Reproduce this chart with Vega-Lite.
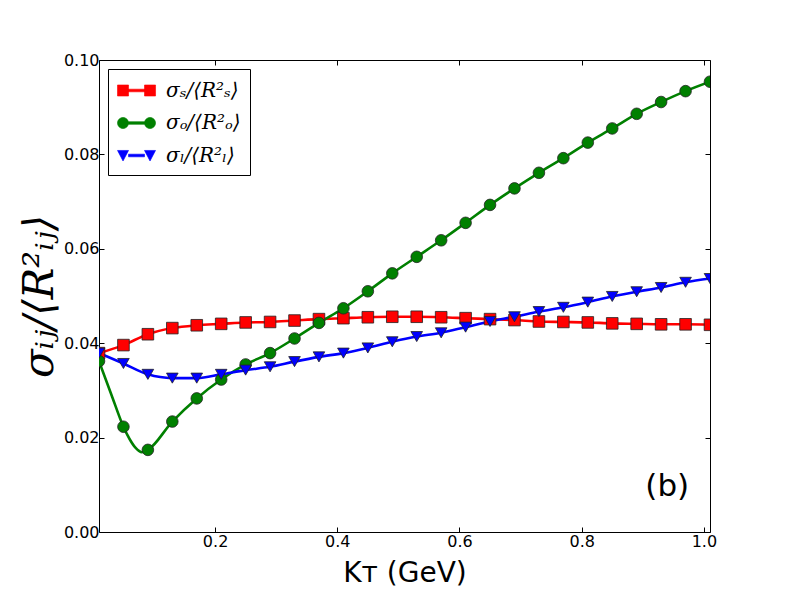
{
  "$schema": "https://vega.github.io/schema/vega-lite/v6.json",
  "autosize": "none",
  "width": 611,
  "height": 472,
  "padding": {"left": 99, "top": 60, "right": 79, "bottom": 60},
  "background": "white",
  "config": {
    "view": {"stroke": "black", "strokeWidth": 1},
    "axis": {
      "domain": false,
      "grid": false,
      "tickColor": "black",
      "tickSize": -5,
      "tickWidth": 1,
      "labelFont": "DejaVu Sans",
      "labelFontSize": 16,
      "labelColor": "black",
      "titleColor": "black",
      "titleFontWeight": "normal"
    },
    "legend": {
      "orient": "top-left",
      "offset": 9,
      "padding": 9,
      "strokeColor": "black",
      "fillColor": "white",
      "cornerRadius": 0,
      "symbolSize": 576,
      "symbolStrokeColor": "#222222",
      "symbolStrokeWidth": 0.6,
      "labelFont": "DejaVu Serif",
      "labelFontStyle": "italic",
      "labelFontSize": 20,
      "labelColor": "black",
      "labelOffset": 24,
      "rowPadding": 9.5
    }
  },
  "datasets": {
    "curves": [
      {"k": 0.01, "sigma": 0.0379, "series": "σₛ/⟨R²ₛ⟩", "sampled": true},
      {"k": 0.05, "sigma": 0.0396, "series": "σₛ/⟨R²ₛ⟩", "sampled": true},
      {"k": 0.09, "sigma": 0.0419, "series": "σₛ/⟨R²ₛ⟩", "sampled": true},
      {"k": 0.13, "sigma": 0.0432, "series": "σₛ/⟨R²ₛ⟩", "sampled": true},
      {"k": 0.17, "sigma": 0.0438, "series": "σₛ/⟨R²ₛ⟩", "sampled": true},
      {"k": 0.21, "sigma": 0.0441, "series": "σₛ/⟨R²ₛ⟩", "sampled": true},
      {"k": 0.25, "sigma": 0.0444, "series": "σₛ/⟨R²ₛ⟩", "sampled": true},
      {"k": 0.29, "sigma": 0.0445, "series": "σₛ/⟨R²ₛ⟩", "sampled": true},
      {"k": 0.33, "sigma": 0.0448, "series": "σₛ/⟨R²ₛ⟩", "sampled": true},
      {"k": 0.37, "sigma": 0.0451, "series": "σₛ/⟨R²ₛ⟩", "sampled": true},
      {"k": 0.41, "sigma": 0.0453, "series": "σₛ/⟨R²ₛ⟩", "sampled": true},
      {"k": 0.45, "sigma": 0.0455, "series": "σₛ/⟨R²ₛ⟩", "sampled": true},
      {"k": 0.49, "sigma": 0.0456, "series": "σₛ/⟨R²ₛ⟩", "sampled": true},
      {"k": 0.53, "sigma": 0.0456, "series": "σₛ/⟨R²ₛ⟩", "sampled": true},
      {"k": 0.57, "sigma": 0.0455, "series": "σₛ/⟨R²ₛ⟩", "sampled": true},
      {"k": 0.61, "sigma": 0.0453, "series": "σₛ/⟨R²ₛ⟩", "sampled": true},
      {"k": 0.65, "sigma": 0.0451, "series": "σₛ/⟨R²ₛ⟩", "sampled": true},
      {"k": 0.69, "sigma": 0.0449, "series": "σₛ/⟨R²ₛ⟩", "sampled": true},
      {"k": 0.73, "sigma": 0.0446, "series": "σₛ/⟨R²ₛ⟩", "sampled": true},
      {"k": 0.77, "sigma": 0.0445, "series": "σₛ/⟨R²ₛ⟩", "sampled": true},
      {"k": 0.81, "sigma": 0.0444, "series": "σₛ/⟨R²ₛ⟩", "sampled": true},
      {"k": 0.85, "sigma": 0.0442, "series": "σₛ/⟨R²ₛ⟩", "sampled": true},
      {"k": 0.89, "sigma": 0.0441, "series": "σₛ/⟨R²ₛ⟩", "sampled": true},
      {"k": 0.93, "sigma": 0.0440, "series": "σₛ/⟨R²ₛ⟩", "sampled": true},
      {"k": 0.97, "sigma": 0.0440, "series": "σₛ/⟨R²ₛ⟩", "sampled": true},
      {"k": 1.01, "sigma": 0.0439, "series": "σₛ/⟨R²ₛ⟩", "sampled": true},
      {"k": 0.01, "sigma": 0.0362, "series": "σₒ/⟨R²ₒ⟩", "sampled": true},
      {"k": 0.03, "sigma": 0.0292, "series": "σₒ/⟨R²ₒ⟩", "sampled": false},
      {"k": 0.05, "sigma": 0.0223, "series": "σₒ/⟨R²ₒ⟩", "sampled": true},
      {"k": 0.06, "sigma": 0.0197, "series": "σₒ/⟨R²ₒ⟩", "sampled": false},
      {"k": 0.07, "sigma": 0.0178, "series": "σₒ/⟨R²ₒ⟩", "sampled": false},
      {"k": 0.08, "sigma": 0.0169, "series": "σₒ/⟨R²ₒ⟩", "sampled": false},
      {"k": 0.09, "sigma": 0.0174, "series": "σₒ/⟨R²ₒ⟩", "sampled": true},
      {"k": 0.13, "sigma": 0.0234, "series": "σₒ/⟨R²ₒ⟩", "sampled": true},
      {"k": 0.17, "sigma": 0.0283, "series": "σₒ/⟨R²ₒ⟩", "sampled": true},
      {"k": 0.21, "sigma": 0.0323, "series": "σₒ/⟨R²ₒ⟩", "sampled": true},
      {"k": 0.25, "sigma": 0.0355, "series": "σₒ/⟨R²ₒ⟩", "sampled": true},
      {"k": 0.29, "sigma": 0.0379, "series": "σₒ/⟨R²ₒ⟩", "sampled": true},
      {"k": 0.33, "sigma": 0.0410, "series": "σₒ/⟨R²ₒ⟩", "sampled": true},
      {"k": 0.37, "sigma": 0.0443, "series": "σₒ/⟨R²ₒ⟩", "sampled": true},
      {"k": 0.41, "sigma": 0.0474, "series": "σₒ/⟨R²ₒ⟩", "sampled": true},
      {"k": 0.45, "sigma": 0.0510, "series": "σₒ/⟨R²ₒ⟩", "sampled": true},
      {"k": 0.49, "sigma": 0.0548, "series": "σₒ/⟨R²ₒ⟩", "sampled": true},
      {"k": 0.53, "sigma": 0.0583, "series": "σₒ/⟨R²ₒ⟩", "sampled": true},
      {"k": 0.57, "sigma": 0.0618, "series": "σₒ/⟨R²ₒ⟩", "sampled": true},
      {"k": 0.61, "sigma": 0.0655, "series": "σₒ/⟨R²ₒ⟩", "sampled": true},
      {"k": 0.65, "sigma": 0.0693, "series": "σₒ/⟨R²ₒ⟩", "sampled": true},
      {"k": 0.69, "sigma": 0.0728, "series": "σₒ/⟨R²ₒ⟩", "sampled": true},
      {"k": 0.73, "sigma": 0.0761, "series": "σₒ/⟨R²ₒ⟩", "sampled": true},
      {"k": 0.77, "sigma": 0.0792, "series": "σₒ/⟨R²ₒ⟩", "sampled": true},
      {"k": 0.81, "sigma": 0.0825, "series": "σₒ/⟨R²ₒ⟩", "sampled": true},
      {"k": 0.85, "sigma": 0.0855, "series": "σₒ/⟨R²ₒ⟩", "sampled": true},
      {"k": 0.89, "sigma": 0.0886, "series": "σₒ/⟨R²ₒ⟩", "sampled": true},
      {"k": 0.93, "sigma": 0.0911, "series": "σₒ/⟨R²ₒ⟩", "sampled": true},
      {"k": 0.97, "sigma": 0.0934, "series": "σₒ/⟨R²ₒ⟩", "sampled": true},
      {"k": 1.01, "sigma": 0.0954, "series": "σₒ/⟨R²ₒ⟩", "sampled": true},
      {"k": 0.01, "sigma": 0.0379, "series": "σₗ/⟨R²ₗ⟩", "sampled": true},
      {"k": 0.05, "sigma": 0.0357, "series": "σₗ/⟨R²ₗ⟩", "sampled": true},
      {"k": 0.09, "sigma": 0.0334, "series": "σₗ/⟨R²ₗ⟩", "sampled": true},
      {"k": 0.13, "sigma": 0.0326, "series": "σₗ/⟨R²ₗ⟩", "sampled": true},
      {"k": 0.17, "sigma": 0.0326, "series": "σₗ/⟨R²ₗ⟩", "sampled": true},
      {"k": 0.21, "sigma": 0.0334, "series": "σₗ/⟨R²ₗ⟩", "sampled": true},
      {"k": 0.25, "sigma": 0.0343, "series": "σₗ/⟨R²ₗ⟩", "sampled": true},
      {"k": 0.29, "sigma": 0.0350, "series": "σₗ/⟨R²ₗ⟩", "sampled": true},
      {"k": 0.33, "sigma": 0.0361, "series": "σₗ/⟨R²ₗ⟩", "sampled": true},
      {"k": 0.37, "sigma": 0.0371, "series": "σₗ/⟨R²ₗ⟩", "sampled": true},
      {"k": 0.41, "sigma": 0.0379, "series": "σₗ/⟨R²ₗ⟩", "sampled": true},
      {"k": 0.45, "sigma": 0.0390, "series": "σₗ/⟨R²ₗ⟩", "sampled": true},
      {"k": 0.49, "sigma": 0.0403, "series": "σₗ/⟨R²ₗ⟩", "sampled": true},
      {"k": 0.53, "sigma": 0.0414, "series": "σₗ/⟨R²ₗ⟩", "sampled": true},
      {"k": 0.57, "sigma": 0.0422, "series": "σₗ/⟨R²ₗ⟩", "sampled": true},
      {"k": 0.61, "sigma": 0.0434, "series": "σₗ/⟨R²ₗ⟩", "sampled": true},
      {"k": 0.65, "sigma": 0.0446, "series": "σₗ/⟨R²ₗ⟩", "sampled": true},
      {"k": 0.69, "sigma": 0.0456, "series": "σₗ/⟨R²ₗ⟩", "sampled": true},
      {"k": 0.73, "sigma": 0.0467, "series": "σₗ/⟨R²ₗ⟩", "sampled": true},
      {"k": 0.77, "sigma": 0.0476, "series": "σₗ/⟨R²ₗ⟩", "sampled": true},
      {"k": 0.81, "sigma": 0.0487, "series": "σₗ/⟨R²ₗ⟩", "sampled": true},
      {"k": 0.85, "sigma": 0.0499, "series": "σₗ/⟨R²ₗ⟩", "sampled": true},
      {"k": 0.89, "sigma": 0.0509, "series": "σₗ/⟨R²ₗ⟩", "sampled": true},
      {"k": 0.93, "sigma": 0.0518, "series": "σₗ/⟨R²ₗ⟩", "sampled": true},
      {"k": 0.97, "sigma": 0.0529, "series": "σₗ/⟨R²ₗ⟩", "sampled": true},
      {"k": 1.01, "sigma": 0.0537, "series": "σₗ/⟨R²ₗ⟩", "sampled": true}
    ],
    "panel": [
      {"k": 0.94, "sigma": 0.0076, "label": "(b)"}
    ]
  },
  "layer": [
    {
      "data": {"name": "curves"},
      "mark": {"type": "line", "interpolate": "monotone", "strokeWidth": 2.6, "clip": true},
      "encoding": {
        "x": {
          "field": "k",
          "type": "quantitative",
          "scale": {"domain": [0.01, 1.01], "nice": false, "zero": false},
          "axis": {
            "orient": "bottom",
            "values": [0.2, 0.4, 0.6, 0.8, 1.0],
            "format": ".1f",
            "labelFontSize": 16,
            "labelPadding": 6,
            "title": "Kᴛ (GeV)",
            "titleFont": "DejaVu Sans",
            "titleFontSize": 28,
            "titlePadding": 10
          }
        },
        "y": {
          "field": "sigma",
          "type": "quantitative",
          "scale": {"domain": [0, 0.1], "nice": false, "zero": false},
          "axis": {
            "orient": "left",
            "values": [0, 0.02, 0.04, 0.06, 0.08, 0.1],
            "format": ".2f",
            "labelFontSize": 16,
            "labelPadding": 5,
            "title": "σᵢⱼ/⟨R²ᵢⱼ⟩",
            "titleFont": "DejaVu Serif",
            "titleFontStyle": "italic",
            "titleFontSize": 42,
            "titlePadding": 2
          }
        },
        "color": {
          "field": "series",
          "type": "nominal",
          "scale": {
            "domain": ["σₛ/⟨R²ₛ⟩", "σₒ/⟨R²ₒ⟩", "σₗ/⟨R²ₗ⟩"],
            "range": ["#ff0000", "#008000", "#0000ff"]
          },
          "legend": {
            "title": null,
            "labelFontSize": 20,
            "symbolSize": 576,
            "encode": {
              "symbols": {
                "update": {
                  "shape": {
                    "signal": "datum.value === 'σₛ/⟨R²ₛ⟩' ? 'M-1,-0.46H-0.08V0.46H-1ZM-0.08,-0.11H1.25V0.11H-0.08ZM1.25,-0.46H2.17V0.46H1.25Z' : datum.value === 'σₒ/⟨R²ₒ⟩' ? 'M-0.08,0A0.46,0.46,0,1,1,-1,0A0.46,0.46,0,1,1,-0.08,0ZM-0.08,-0.11H1.25V0.11H-0.08ZM2.17,0A0.46,0.46,0,1,1,1.25,0A0.46,0.46,0,1,1,2.17,0Z' : 'M-1,-0.42H-0.08L-0.54,0.46ZM-0.08,-0.11H1.25V0.11H-0.08ZM1.25,-0.42H2.17L1.71,0.46Z'"
                  },
                  "fill": {"scale": "color", "field": "value"},
                  "stroke": {"value": "#222222"},
                  "strokeWidth": {"value": 0.6},
                  "opacity": {"value": 1}
                }
              }
            }
          }
        }
      }
    },
    {
      "data": {"name": "curves"},
      "transform": [{"filter": "datum.sampled && datum.series === 'σₛ/⟨R²ₛ⟩'"}],
      "mark": {"type": "point", "shape": "square", "filled": true, "size": 135, "opacity": 1, "stroke": "#222222", "strokeWidth": 0.8, "clip": true},
      "encoding": {
        "x": {
          "field": "k",
          "type": "quantitative",
          "axis": {"orient": "top", "values": [0.2, 0.4, 0.6, 0.8, 1.0], "labels": false, "title": null}
        },
        "y": {
          "field": "sigma",
          "type": "quantitative",
          "axis": {"orient": "right", "values": [0, 0.02, 0.04, 0.06, 0.08, 0.1], "labels": false, "title": null}
        },
        "color": {"field": "series", "type": "nominal"}
      }
    },
    {
      "data": {"name": "curves"},
      "transform": [{"filter": "datum.sampled && datum.series === 'σₒ/⟨R²ₒ⟩'"}],
      "mark": {"type": "point", "shape": "circle", "filled": true, "size": 135, "opacity": 1, "stroke": "#222222", "strokeWidth": 0.8, "clip": true},
      "encoding": {
        "x": {"field": "k", "type": "quantitative", "axis": null},
        "y": {"field": "sigma", "type": "quantitative", "axis": null},
        "color": {"field": "series", "type": "nominal"}
      }
    },
    {
      "data": {"name": "curves"},
      "transform": [{"filter": "datum.sampled && datum.series === 'σₗ/⟨R²ₗ⟩'"}],
      "mark": {"type": "point", "shape": "triangle-down", "filled": true, "size": 135, "opacity": 1, "stroke": "#222222", "strokeWidth": 0.8, "clip": true},
      "encoding": {
        "x": {"field": "k", "type": "quantitative", "axis": null},
        "y": {"field": "sigma", "type": "quantitative", "axis": null},
        "color": {"field": "series", "type": "nominal"}
      }
    },
    {
      "data": {"name": "panel"},
      "mark": {"type": "text", "font": "DejaVu Sans", "fontSize": 31, "align": "center", "baseline": "alphabetic", "color": "black"},
      "encoding": {
        "x": {"field": "k", "type": "quantitative", "axis": null},
        "y": {"field": "sigma", "type": "quantitative", "axis": null},
        "text": {"field": "label"}
      }
    }
  ],
  "resolve": {"axis": {"x": "independent", "y": "independent"}}
}
